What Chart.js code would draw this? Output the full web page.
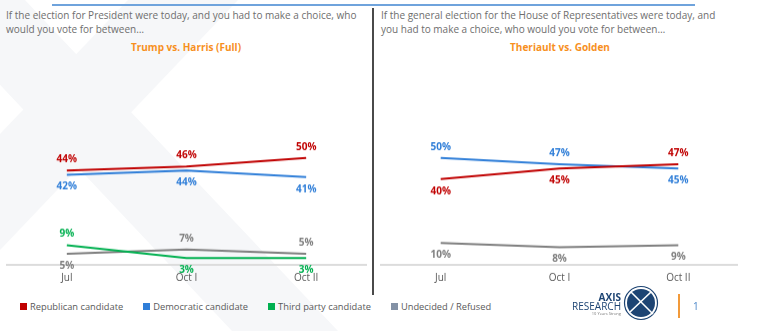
<!DOCTYPE html>
<html>
<head>
<meta charset="utf-8">
<script src="https://cdn.jsdelivr.net/npm/chart.js@4/dist/chart.umd.min.js"></script>
<style>
  body { margin: 0; width: 762px; height: 331px; overflow: hidden; background: #fff; position: relative; font-family: "Open Sans", sans-serif; }
  #bg { position: absolute; left: 0; top: 0; }
  .topline { position: absolute; left: 52px; top: 4px; width: 643px; height: 2px; background: #6fa3dc; }
  .divider { position: absolute; left: 372px; top: 8px; width: 2px; height: 287px; background: #4a4a4a; }
  .question { position: absolute; top: 8px; font-size: 10px; line-height: 14px; color: #6e6e6e; white-space: nowrap; }
  .subtitle { position: absolute; top: 40px; font-size: 10px; font-weight: bold; color: #f7901e; transform: translateX(-50%); white-space: nowrap; }
  .wrap { position: absolute; top: 130px; height: 162.5px; }
  #legend { position: absolute; left: 20px; top: 300px; display: flex; gap: 20px; font-size: 9.3px; color: #595959; }
  #legend span.item { display: flex; align-items: center; white-space: nowrap; }
  #legend i { display: inline-block; width: 7px; height: 7px; margin-right: 3px; }
  .logo-text { position: absolute; right: 141px; text-align: right; color: #1d4473; white-space: nowrap; }
  .orange-bar { position: absolute; left: 678px; top: 294px; width: 1.5px; height: 24px; background: #f29a3a; }
  .page { position: absolute; left: 693px; top: 299px; font-size: 10px; color: #4a86c8; }
</style>
</head>
<body>

<!-- faint X mark behind everything -->
<svg id="bg" width="762" height="331">
  <polygon points="-80,0 25,0 338,331 232,331" fill="#f6f7f9"/>
  <polygon points="128,0 238,0 0,250 0,134" fill="#f6f7f9"/>
</svg>

<div class="topline"></div>
<div class="divider"></div>

<div class="question" style="left:6px">If the election for President were today, and you had to make a choice, who<br>would you vote for between…</div>
<div class="subtitle" style="left:186px">Trump vs. Harris (Full)</div>

<div class="question" style="left:381px">If the general election for the House of Representatives were today, and<br>you had to make a choice, who would you vote for between…</div>
<div class="subtitle" style="left:560px">Theriault vs. Golden</div>

<div class="wrap" style="left:0; width:372px"><canvas id="presChart"></canvas></div>
<div class="wrap" style="left:375px; width:387px"><canvas id="houseChart"></canvas></div>

<div id="legend"></div>

<div class="logo-text" style="top:290px; font-size:10px; font-weight:bold">AXIS</div>
<div class="logo-text" style="top:299px; font-size:10px">RESEARCH</div>
<div class="logo-text" style="top:311px; font-size:4px; color:#777">10 Years Strong</div>
<svg style="position:absolute; left:623px; top:285px" width="36" height="36">
  <circle cx="18" cy="18" r="16.5" fill="none" stroke="#1d4473" stroke-width="1.2"/>
  <circle cx="18" cy="18" r="14" fill="#1d4473"/>
  <line x1="8" y1="7" x2="30" y2="29" stroke="#fff" stroke-width="1.6"/>
  <line x1="28" y1="7" x2="7" y2="27" stroke="#fff" stroke-width="1.6"/>
</svg>
<div class="orange-bar"></div>
<div class="page">1</div>

<script>
const waves = ['Jul', 'Oct I', 'Oct II']

// President: Trump vs. Harris (Full)
const presRepublican = [44, 46, 50]
const presDemocratic = [42, 44, 41]
const presThirdParty = [9, 3, 3]
const presUndecided = [5, 7, 5]

// House: Theriault vs. Golden
const houseRepublican = [40, 45, 47]
const houseDemocratic = [50, 47, 45]
const houseUndecided = [10, 8, 9]

const seriesNames = ['Republican candidate', 'Democratic candidate', 'Third party candidate', 'Undecided / Refused']
const seriesColors = ['#c00000', '#2f7ed8', '#00b050', '#7f7f7f']
const legendColors = ['#c00000', '#2f7ed8', '#00b050', '#8391a5']

// labelSide: 1 = label above the point, -1 = below
const valueLabels = {
    id: 'valueLabels',
    afterDatasetsDraw(chart) {
        const ctx = chart.ctx
        ctx.save()
        ctx.font = 'bold 10px "Open Sans"'
        ctx.textAlign = 'center'
        ctx.textBaseline = 'middle'
        chart.data.datasets.forEach((ds, i) => {
            const meta = chart.getDatasetMeta(i)
            meta.data.forEach((pt, j) => {
                ctx.fillStyle = ds.borderColor
                const dy = ds.labelSide[j] > 0 ? -11 : 12
                ctx.fillText(ds.data[j] + '%', pt.x, pt.y + dy)
            })
        })
        ctx.restore()
    }
}

function line(idx, data, labelSide) {
    return {
        label: seriesNames[idx],
        data: data,
        borderColor: seriesColors[idx],
        borderWidth: 2,
        pointRadius: 0,
        tension: 0,
        labelSide: labelSide
    }
}

function makeChart(id, datasets, padding) {
    return new Chart(document.getElementById(id), {
        type: 'line',
        data: { labels: waves, datasets: datasets },
        options: {
            responsive: true,
            maintainAspectRatio: false,
            animation: false,
            layout: { padding: padding },
            plugins: { legend: { display: false }, tooltip: { enabled: false } },
            scales: {
                x: {
                    offset: true,
                    grid: { display: false, drawTicks: false },
                    border: { display: true, color: '#dcdcdc', width: 2 },
                    ticks: { color: '#595959', padding: 8, font: { family: 'Open Sans', size: 10 } }
                },
                y: { display: false, min: 0, max: 60 }
            }
        },
        plugins: [valueLabels]
    })
}

makeChart('presChart', [
    line(0, presRepublican, [1, 1, 1]),
    line(1, presDemocratic, [-1, -1, -1]),
    line(2, presThirdParty, [1, -1, -1]),
    line(3, presUndecided, [-1, 1, 1])
], { left: 7, right: 6, top: 6.5, bottom: 1 })

makeChart('houseChart', [
    line(0, houseRepublican, [-1, -1, 1]),
    line(1, houseDemocratic, [1, 1, -1]),
    line(3, houseUndecided, [-1, -1, -1])
], { left: 6.3, right: 24.3, top: 6.5, bottom: 1 })

const legend = document.getElementById('legend')
seriesNames.forEach((name, i) => {
    const item = document.createElement('span')
    item.className = 'item'
    item.innerHTML = '<i style="background:' + legendColors[i] + '"></i>' + name
    legend.appendChild(item)
})
</script>
</body>
</html>
